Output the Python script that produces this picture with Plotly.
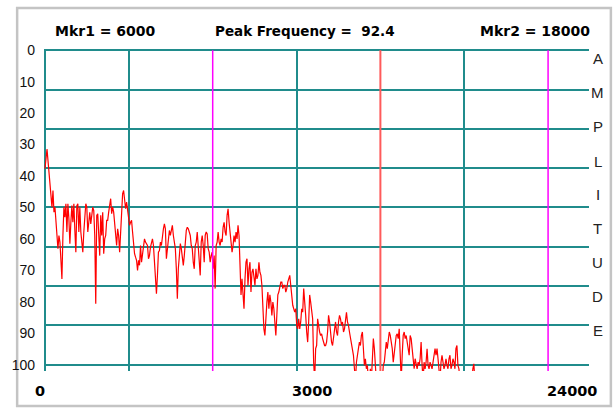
import numpy as np
import plotly.graph_objects as go

# ---------------- data ----------------
BIN_HZ = 35.6                      # width of one spectrum bin
amplitude = [
    # 0 .. ~5000 Hz
    37.7, 34.5, 31.4, 35.1, 39.3, 44.1, 45.7, 49.9, 44.6, 51.5,
    49.9, 54.1, 58.4, 63.1, 58.9, 61.0, 66.8, 72.7, 58.9, 49.9,
    53.1, 48.8, 57.8, 48.8, 53.6, 61.5, 54.7, 49.4, 54.7, 48.8,
    57.3, 64.2, 49.4, 48.8, 57.8, 49.9, 57.8, 61.0, 64.2, 57.8,
    53.6, 48.8, 49.9, 57.8, 54.7, 51.5, 55.2, 51.0, 49.9, 51.0,
    58.9, 80.6, 52.5, 52.0, 57.8, 65.3, 52.5, 58.9, 51.5, 64.7,
    60.0, 58.9, 54.1, 54.1, 51.5, 48.3, 47.2, 52.0, 49.9, 51.5,
    55.7, 58.9, 62.1, 56.8, 58.9, 64.2, 57.8, 49.4, 45.7, 44.6,
    47.8, 50.4, 48.3, 51.0, 54.1, 55.7, 54.7, 54.1, 57.8, 62.1,
    64.7, 65.8, 66.8, 70.0, 66.8, 68.4, 62.1, 67.4, 65.3, 63.1,
    60.0, 61.0, 61.5, 62.1, 66.3, 65.3, 62.6, 61.5, 60.0, 62.1,
    66.3, 73.7, 77.4, 71.6, 64.2, 63.7, 61.0, 62.1, 58.9, 56.8,
    55.2, 56.8, 66.3, 63.1, 58.9, 57.3, 58.9, 57.3, 55.7, 58.9,
    61.0, 63.1, 69.5, 79.0, 69.5, 64.2, 61.5, 63.1, 66.3, 68.4,
    # ~5000 .. ~10000 Hz
    65.3, 61.0, 57.3, 56.3, 56.8, 57.8, 58.9, 62.1, 63.1, 67.4,
    69.5, 62.1, 61.0, 57.8, 62.1, 67.4, 71.6, 61.0, 58.9, 62.1,
    67.4, 58.9, 57.8, 58.4, 63.1, 64.2, 67.4, 65.3, 64.2, 69.5,
    65.3, 75.8, 62.1, 61.0, 57.8, 61.0, 62.1, 60.0, 61.0, 56.3,
    54.7, 57.8, 58.9, 52.5, 50.4, 54.7, 58.9, 63.1, 64.2, 62.1,
    58.9, 61.0, 57.8, 60.0, 55.7, 58.9, 71.6, 77.8, 72.7, 76.9,
    82.2, 72.7, 67.4, 66.3, 74.8, 69.5, 67.4, 76.9, 70.6, 69.5,
    71.6, 74.8, 69.5, 72.7, 71.6, 67.4, 70.6, 71.6, 74.8, 82.2,
    88.6, 90.7, 84.3, 80.1, 76.9, 82.2, 77.8, 80.1, 84.3, 80.1,
    82.2, 87.5, 90.7, 84.3, 77.8, 76.9, 74.8, 73.7, 73.7, 75.8,
    74.8, 74.8, 76.9, 75.8, 73.7, 72.7, 71.6, 74.8, 79.0, 81.1,
    82.2, 83.3, 82.2, 87.5, 88.6, 85.4, 88.6, 86.4, 82.2, 83.3,
    75.8, 79.0, 84.3, 89.6, 92.8, 86.4, 77.8, 80.1, 82.2, 85.4,
    99.2, 105.0, 94.9, 93.9, 85.4, 88.6, 89.6, 90.7, 90.2, 91.7,
    92.8, 93.9,
    # ~10000 .. ~15400 Hz
    93.9, 92.8, 89.6, 84.3, 86.4, 90.7, 92.8, 93.9, 90.7, 88.6,
    86.4, 89.6, 90.7, 86.4, 84.3, 85.4, 87.5, 86.4, 89.6, 88.6,
    84.9, 83.3, 86.4, 87.5, 89.6, 91.7, 93.9, 94.9, 97.0, 101.3,
    105.0, 99.2, 96.0, 94.9, 92.8, 93.9, 90.7, 89.6, 94.9, 100.2,
    98.1, 101.3, 100.2, 105.0, 105.0, 101.3, 105.0, 94.9, 91.7, 94.9,
    101.3, 105.0, 105.0, 105.0, 105.0, 105.0, 105.0, 105.0, 100.2, 99.2,
    96.0, 92.8, 94.9, 91.7, 89.6, 90.7, 92.8, 94.9, 99.2, 96.0,
    91.7, 90.7, 90.2, 91.7, 88.6, 94.9, 105.0, 97.0, 90.7, 89.6,
    91.7, 90.7, 92.8, 94.9, 97.0, 90.7, 91.7, 94.9, 99.2, 101.3,
    98.1, 100.2, 101.3, 99.2, 100.2, 98.1, 92.8, 100.2, 105.0, 99.2,
    101.3, 99.2, 94.9, 100.2, 101.3, 99.2, 100.2, 101.3, 99.2, 96.0,
    94.9, 97.0, 94.9, 98.1, 101.3, 105.0, 99.2, 97.0, 99.2, 101.3,
    100.2, 98.1, 100.2, 101.3, 98.1, 97.0, 101.3, 100.2, 98.1, 99.2,
    101.3, 94.9, 93.9, 100.2, 101.3, 105.0, 105.0, 105.0, 105.0, 105.0,
    105.0, 105.0, 105.0, 105.0, 105.0, 105.0, 105.0, 105.0, 101.3, 99.7,
    105.0,
]
freq_hz = np.arange(len(amplitude)) * BIN_HZ

mkr1_hz = 6000
mkr2_hz = 18000
peak_line_hz = 12000
peak_frequency_text = "92.4"

x_grid_hz = [0, 3000, 9000, 15000]
y_grid = [0, 12.5, 25, 37.5, 50, 62.5, 75, 87.5, 100]
y_tick_vals = [0, 10, 20, 30, 40, 50, 60, 70, 80, 90, 100]
x_labels = ["0", "3000", "24000"]
side_letters = list("AMPLITUDE")

# ---------------- styles ----------------
TEAL = "rgb(32,140,140)"
Y_RANGE = [102, -0.4]
X_RANGE = [-36, 19464]

fig = go.Figure()

fig.add_trace(go.Scatter(
    x=freq_hz, y=amplitude, mode="lines",
    line=dict(color="#ff0000", width=1.2), hoverinfo="skip", showlegend=False,
))
for m in [mkr1_hz, mkr2_hz]:
    fig.add_trace(go.Scatter(
        x=[m, m], y=[0, Y_RANGE[0]], mode="lines", yaxis="y2",
        line=dict(color="#ff00ff", width=1.5), hoverinfo="skip", showlegend=False,
    ))
fig.add_trace(go.Scatter(
    x=[peak_line_hz, peak_line_hz], y=[0, Y_RANGE[0]], mode="lines", yaxis="y2",
    line=dict(color="#ff5a5a", width=2), hoverinfo="skip", showlegend=False,
))

label_font = dict(family="Liberation Sans, Arial, sans-serif", size=14, color="#111111")
bold_font = dict(family="DejaVu Sans, sans-serif", size=14, color="#000000")

fig.update_layout(
    width=615, height=408,
    margin=dict(l=41, r=26, t=49, b=37),
    paper_bgcolor="white", plot_bgcolor="white",
    showlegend=False,
    xaxis=dict(
        range=X_RANGE, tickmode="array", tickvals=x_grid_hz,
        showticklabels=False, ticks="", showgrid=True, gridcolor=TEAL, gridwidth=2,
        zeroline=False, showline=False, fixedrange=True,
    ),
    yaxis=dict(
        range=Y_RANGE, tickmode="array", tickvals=y_tick_vals,
        ticktext=[str(v) for v in y_tick_vals], tickfont=label_font,
        ticks="", ticklabelstandoff=8, showgrid=False, zeroline=False, showline=False,
        fixedrange=True,
    ),
    yaxis2=dict(
        range=Y_RANGE, overlaying="y", side="left", tickmode="array", tickvals=y_grid,
        showticklabels=False, ticks="", showgrid=True, gridcolor=TEAL, gridwidth=2,
        zeroline=False, showline=False, fixedrange=True,
    ),
)

# helpers converting reference pixel positions to paper coords (plot area 41..589 x 49..371)
def px(xp):
    return (xp - 41) / 548

def py(yp):
    return (371 - yp) / 322

ann = []
top_y = py(31)
ann.append(dict(text=f"<b>Mkr1 = {mkr1_hz}</b>", x=px(50), y=top_y, font=bold_font))
ann.append(dict(text=f"<b>Peak Frequency =&nbsp; {peak_frequency_text}</b>", x=px(211), y=top_y,
                font=dict(bold_font, size=13.5)))
ann.append(dict(text=f"<b>Mkr2 = {mkr2_hz}</b>", x=px(477), y=top_y, font=bold_font))
for a in ann:
    a.update(xref="paper", yref="paper", xanchor="left", yanchor="middle", showarrow=False)

bot_y = py(391)
for txt, xc in zip(x_labels, [36.5, 310.5, 571.5]):
    ann.append(dict(text=f"<b>{txt}</b>", x=px(xc), y=bot_y, xref="paper", yref="paper",
                    xanchor="center", yanchor="middle", showarrow=False,
                    font=dict(bold_font, size=14.5)))

letter_py = [58.7, 92, 126.7, 161.7, 194.3, 228.3, 262, 296.7, 330.3]
for ch, yp in zip(side_letters, letter_py):
    ann.append(dict(text=ch, x=px(598), y=py(yp), xref="paper", yref="paper",
                    xanchor="center", yanchor="middle", showarrow=False,
                    font=dict(family="Liberation Sans, Arial, sans-serif", size=15, color="#222222")))
fig.update_layout(annotations=ann)

fig.add_shape(type="rect", xref="paper", yref="paper",
              x0=px(14), x1=px(611), y0=py(406), y1=py(8),
              line=dict(color="#c4c4c4", width=2.5), layer="below")

fig.write_html("out.html")
